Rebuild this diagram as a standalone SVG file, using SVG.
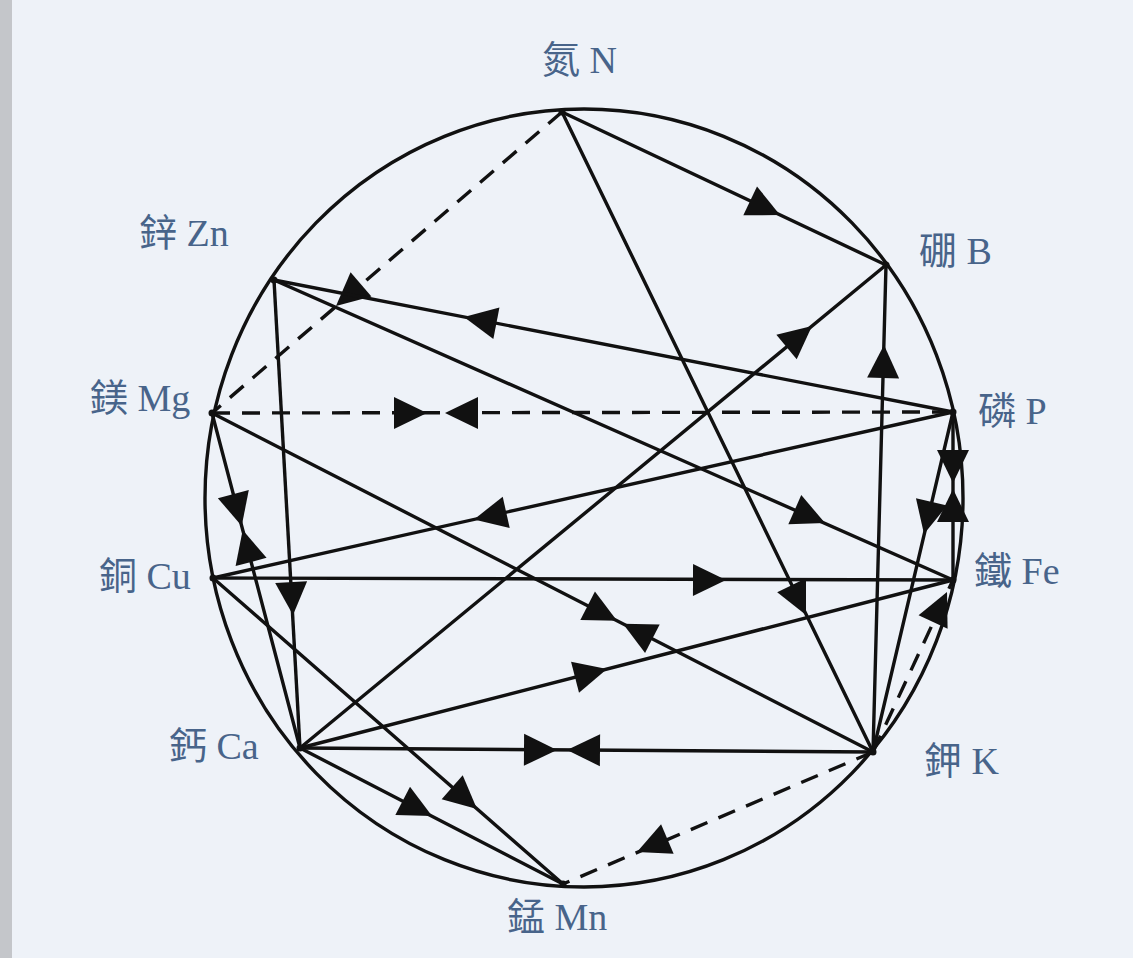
<svg xmlns="http://www.w3.org/2000/svg" xmlns:xlink="http://www.w3.org/1999/xlink" width="1133" height="958" viewBox="0 0 1133 958">
<style>
.bg{fill:#eef2f8}
.ring{fill:none;stroke:#111;stroke-width:3.4}
.ln{fill:none;stroke:#111;stroke-width:3.4;stroke-linecap:round}
.ds{fill:none;stroke:#111;stroke-width:3.4;stroke-dasharray:18 12}
.ah{fill:#111}
.dot{fill:#111}
.lbl{font-family:"Liberation Serif","Noto Sans CJK TC",serif;font-size:38px;fill:#48648a}
</style>
<defs>
<path id="ah" class="ah" d="M0,0 L-33,-16 L-33,16 Z"/>
</defs>
<rect class="bg" x="0" y="0" width="1133" height="958"/>
<rect x="0" y="0" width="12" height="958" fill="#c4c6ca"/>
<ellipse class="ring" cx="584" cy="498" rx="379" ry="389"/>
<g id="connectors">
<line class="ln" x1="562" y1="112" x2="886" y2="265"/>
<use href="#ah" transform="translate(780,215) rotate(25.3)"/>
<line class="ln" x1="562" y1="112" x2="873" y2="752"/>
<use href="#ah" transform="translate(806,615) rotate(64.1)"/>
<line class="ds" x1="562" y1="112" x2="212" y2="413"/>
<use href="#ah" transform="translate(336,306) rotate(139.3)"/>
<line class="ln" x1="953" y1="412" x2="274" y2="280"/>
<use href="#ah" transform="translate(464,317) rotate(191)"/>
<line class="ln" x1="274" y1="280" x2="953" y2="580"/>
<use href="#ah" transform="translate(825,523) rotate(23.8)"/>
<line class="ln" x1="274" y1="280" x2="300" y2="748"/>
<use href="#ah" transform="translate(293,615) rotate(86.8)"/>
<line class="ds" x1="212" y1="413" x2="953" y2="412"/>
<use href="#ah" transform="translate(427,413) rotate(0)"/>
<use href="#ah" transform="translate(445,413) rotate(180)"/>
<line class="ln" x1="212" y1="413" x2="873" y2="752"/>
<use href="#ah" transform="translate(617,620.8) rotate(27.15)"/>
<use href="#ah" transform="translate(623,623.8) rotate(207.15)"/>
<line class="ln" x1="212" y1="413" x2="300" y2="748"/>
<use href="#ah" transform="translate(241.7,526) rotate(75.3)"/>
<use href="#ah" transform="translate(242.7,530) rotate(255.3)"/>
<line class="ln" x1="213" y1="578" x2="953" y2="580"/>
<use href="#ah" transform="translate(726,580) rotate(0.15)"/>
<line class="ln" x1="953" y1="412" x2="213" y2="578"/>
<use href="#ah" transform="translate(474,519.5) rotate(167.4)"/>
<line class="ln" x1="213" y1="578" x2="563" y2="884"/>
<use href="#ah" transform="translate(477,809) rotate(41.2)"/>
<line class="ln" x1="300" y1="748" x2="886" y2="265"/>
<use href="#ah" transform="translate(812,326) rotate(-39.5)"/>
<line class="ln" x1="873" y1="752" x2="886" y2="265"/>
<use href="#ah" transform="translate(884,345) rotate(-88.5)"/>
<line class="ln" x1="300" y1="748" x2="953" y2="580"/>
<use href="#ah" transform="translate(607,669) rotate(-14.4)"/>
<line class="ln" x1="300" y1="748" x2="873" y2="752"/>
<use href="#ah" transform="translate(557,750) rotate(0.4)"/>
<use href="#ah" transform="translate(567,750) rotate(180.4)"/>
<line class="ln" x1="300" y1="748" x2="563" y2="884"/>
<use href="#ah" transform="translate(432,816) rotate(27.3)"/>
<line class="ds" x1="873" y1="752" x2="563" y2="884"/>
<use href="#ah" transform="translate(637,852) rotate(156.9)"/>
<line class="ds" x1="873" y1="752" x2="953" y2="580"/>
<use href="#ah" transform="translate(947,592) rotate(-65.06)"/>
<line class="ln" x1="953" y1="412" x2="873" y2="752"/>
<use href="#ah" transform="translate(924,534) rotate(103.2)"/>
<line class="ln" x1="953" y1="412" x2="953" y2="580"/>
<use href="#ah" transform="translate(953,483) rotate(90)"/>
<use href="#ah" transform="translate(953,489) rotate(270)"/>
</g>
<g id="node-N"><circle class="dot" cx="562" cy="112" r="3.5"/><text class="lbl" x="542" y="73">氮 N</text></g>
<g id="node-B"><circle class="dot" cx="886" cy="265" r="3.5"/><text class="lbl" x="919" y="264">硼 B</text></g>
<g id="node-P"><circle class="dot" cx="953" cy="412" r="3.5"/><text class="lbl" x="978" y="424">磷 P</text></g>
<g id="node-Fe"><circle class="dot" cx="953" cy="580" r="3.5"/><text class="lbl" x="974" y="584">鐵 Fe</text></g>
<g id="node-K"><circle class="dot" cx="873" cy="752" r="3.5"/><text class="lbl" x="924" y="774">鉀 K</text></g>
<g id="node-Mn"><circle class="dot" cx="563" cy="884" r="3.5"/><text class="lbl" x="507" y="930">錳 Mn</text></g>
<g id="node-Ca"><circle class="dot" cx="300" cy="748" r="3.5"/><text class="lbl" x="169" y="759">鈣 Ca</text></g>
<g id="node-Cu"><circle class="dot" cx="213" cy="578" r="3.5"/><text class="lbl" x="99" y="589">銅 Cu</text></g>
<g id="node-Mg"><circle class="dot" cx="212" cy="413" r="3.5"/><text class="lbl" x="90" y="411">鎂 Mg</text></g>
<g id="node-Zn"><circle class="dot" cx="274" cy="280" r="3.5"/><text class="lbl" x="139" y="246">鋅 Zn</text></g>
</svg>
